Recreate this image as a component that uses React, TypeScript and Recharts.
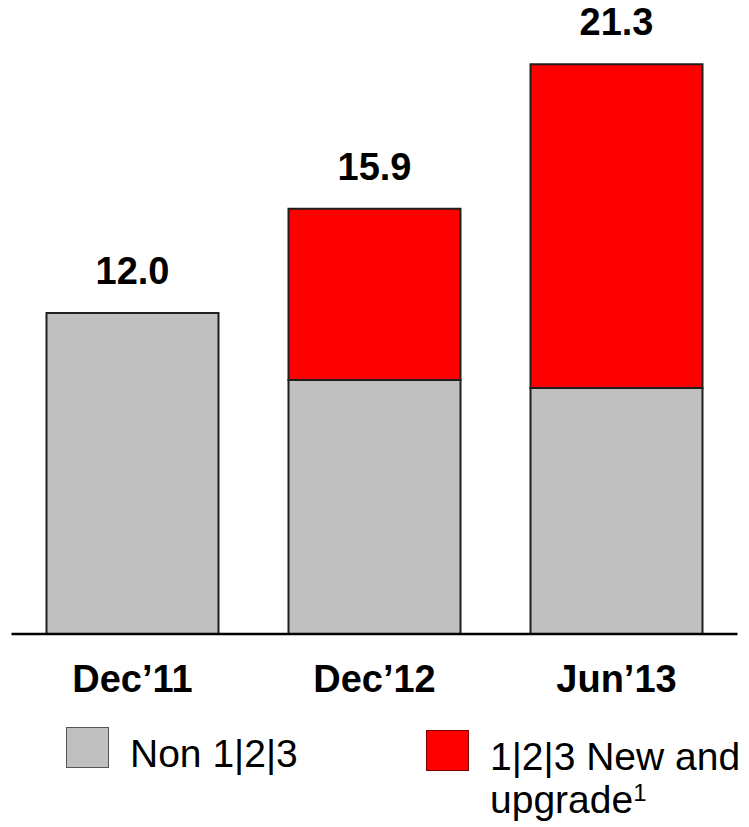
import { ComposedChart, Bar, Line, XAxis, YAxis, LabelList } from 'recharts';

const periods = ['Dec\u201911', 'Dec\u201912', 'Jun\u201913'];
const non123 = [12.0, 9.5, 9.2];
const new123 = [0, 6.4, 12.1];
const totals = [12.0, 15.9, 21.3];

const data = periods.map((period, i) => ({
  period,
  non123: non123[i],
  new123: new123[i],
  total: totals[i],
}));

const FONT = '"Liberation Sans", Arial, sans-serif';

function PeriodTick({ x, y, payload }: any) {
  return (
    <text
      x={x}
      y={y + 50}
      textAnchor="middle"
      fontFamily={FONT}
      fontWeight="bold"
      fontSize={38}
      fill="#000"
    >
      {payload.value}
    </text>
  );
}

// totals sit above each stack; drawn from an invisible line so the
// Dec'11 bar (no red segment) still gets its label
function TotalLabel({ x, y, value }: any) {
  return (
    <text
      x={x}
      y={y - 29}
      textAnchor="middle"
      fontFamily={FONT}
      fontWeight="bold"
      fontSize={38}
      fill="#000"
    >
      {Number(value).toFixed(1)}
    </text>
  );
}

export default function App() {
  return (
    <div style={{ position: 'absolute', left: 0, top: 0, width: 749, height: 827, background: '#fff' }}>
      <ComposedChart
        width={749}
        height={827}
        data={data}
        margin={{ top: 45.5, right: 11.5, bottom: 133, left: 11.5 }}
      >
        <XAxis
          dataKey="period"
          height={60}
          tickLine={false}
          axisLine={{ stroke: '#000', strokeWidth: 2.5 }}
          tick={<PeriodTick />}
          interval={0}
        />
        <YAxis hide domain={[0, 22]} />
        <Bar
          dataKey="non123"
          stackId="a"
          fill="#C0C0C0"
          stroke="#1f1f1f"
          strokeWidth={2}
          barSize={172}
          isAnimationActive={false}
        />
        <Bar
          dataKey="new123"
          stackId="a"
          fill="#FF0000"
          stroke="#1f1f1f"
          strokeWidth={2}
          barSize={172}
          isAnimationActive={false}
        />
        <Line
          dataKey="total"
          stroke="none"
          dot={false}
          activeDot={false}
          isAnimationActive={false}
        >
          <LabelList dataKey="total" content={<TotalLabel />} />
        </Line>
      </ComposedChart>

      <div
        style={{
          position: 'absolute',
          left: 66,
          top: 727,
          width: 41,
          height: 39,
          background: '#C0C0C0',
          border: '1px solid #555',
        }}
      />
      <div
        style={{
          position: 'absolute',
          left: 130,
          top: 732,
          fontFamily: FONT,
          fontSize: 39,
          lineHeight: '43px',
          color: '#000',
          whiteSpace: 'nowrap',
        }}
      >
        Non 1|2|3
      </div>
      <div
        style={{
          position: 'absolute',
          left: 426,
          top: 730,
          width: 41,
          height: 39,
          background: '#FF0000',
          border: '1px solid #7a0000',
        }}
      />
      <div
        style={{
          position: 'absolute',
          left: 490,
          top: 735,
          fontFamily: FONT,
          fontSize: 39,
          lineHeight: '43px',
          color: '#000',
          whiteSpace: 'nowrap',
        }}
      >
        1|2|3 New and
        <br />
        upgrade<sup style={{ fontSize: 24, verticalAlign: 'top', lineHeight: '30px' }}>1</sup>
      </div>
    </div>
  );
}
